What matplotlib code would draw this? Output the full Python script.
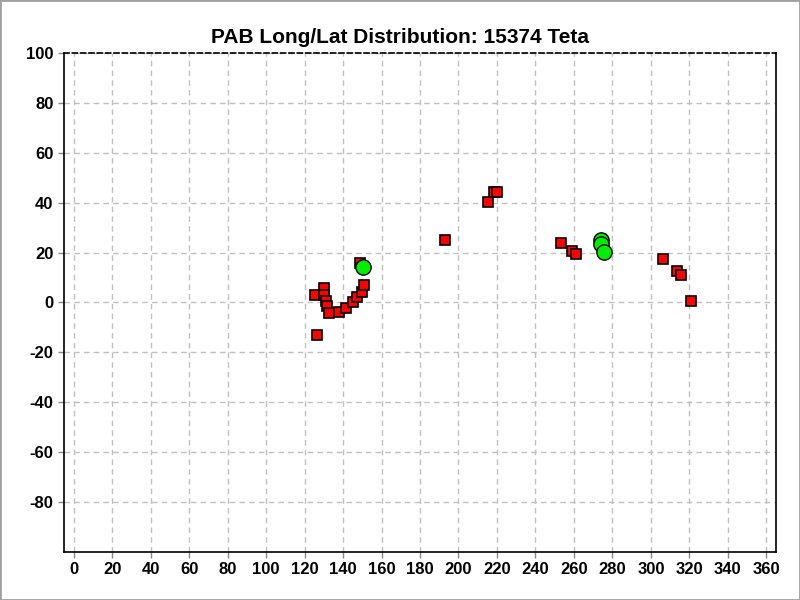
import numpy as np
import matplotlib.pyplot as plt
from matplotlib.patches import Rectangle

# Dados (longitude, latitude)
sq_lon = [148.7, 125.5, 126.4, 130.3, 130.0, 131.0, 131.6, 132.6, 137.8, 141.5,
          145.1, 147.2, 149.6, 150.8, 193.1, 215.2, 218.2, 219.9, 253.2, 258.9,
          261.3, 306.5, 313.4, 315.8, 321.0]
sq_lat = [15.9, 3.2, -13.0, 5.7, 3.2, 0.4, -1.3, -4.4, -4.0, -2.1,
          0.0, 2.0, 4.3, 7.1, 25.2, 40.4, 44.4, 44.4, 24.0, 20.8,
          19.6, 17.6, 12.8, 10.9, 0.7]
circ_lon = [150.5, 273.9, 274.3, 275.8]
circ_lat = [14.1, 24.9, 23.6, 20.2]

xticks = np.arange(0, 361, 20)
yticks = np.arange(-80, 101, 20)

plt.rcParams['font.family'] = ['Liberation Sans', 'DejaVu Sans']
plt.rcParams['font.weight'] = 'bold'
plt.rcParams['axes.unicode_minus'] = False

fig = plt.figure(figsize=(8, 6), dpi=100)
ax = fig.add_axes([0.08, 0.08, 0.89, 0.8317])

ax.plot(sq_lon, sq_lat, 's', color='red', markeredgecolor='black',
        markersize=7.5, markeredgewidth=1.2, linestyle='none', zorder=3)
ax.plot(circ_lon, circ_lat, 'o', color='#00ee00', markeredgecolor='black',
        markersize=11, markeredgewidth=1.0, linestyle='none', zorder=4)

ax.set_xlim(-5, 365)
ax.set_ylim(-100, 100)
ax.set_xticks(xticks)
ax.set_yticks(yticks)
ax.tick_params(labelsize=12, length=4, width=1, color='#888888')
for lab in ax.get_xticklabels() + ax.get_yticklabels():
    lab.set_fontweight('bold')

ax.grid(True, linestyle=(0, (4, 3)), color='#c0c0c0', linewidth=1)
ax.set_axisbelow(True)
ax.spines['top'].set_linestyle((0, (3, 2)))
for s in ax.spines.values():
    s.set_linewidth(1.2)

fig.text(0.5, 0.938, 'PAB Long/Lat Distribution: 15374 Teta', ha='center',
         va='center', fontsize=15, fontweight='bold')

fig.patches.append(Rectangle((0, 0), 1, 1, transform=fig.transFigure,
                             fill=False, edgecolor='#a0a0a0', linewidth=2))

fig.savefig('out.png', dpi=100)
